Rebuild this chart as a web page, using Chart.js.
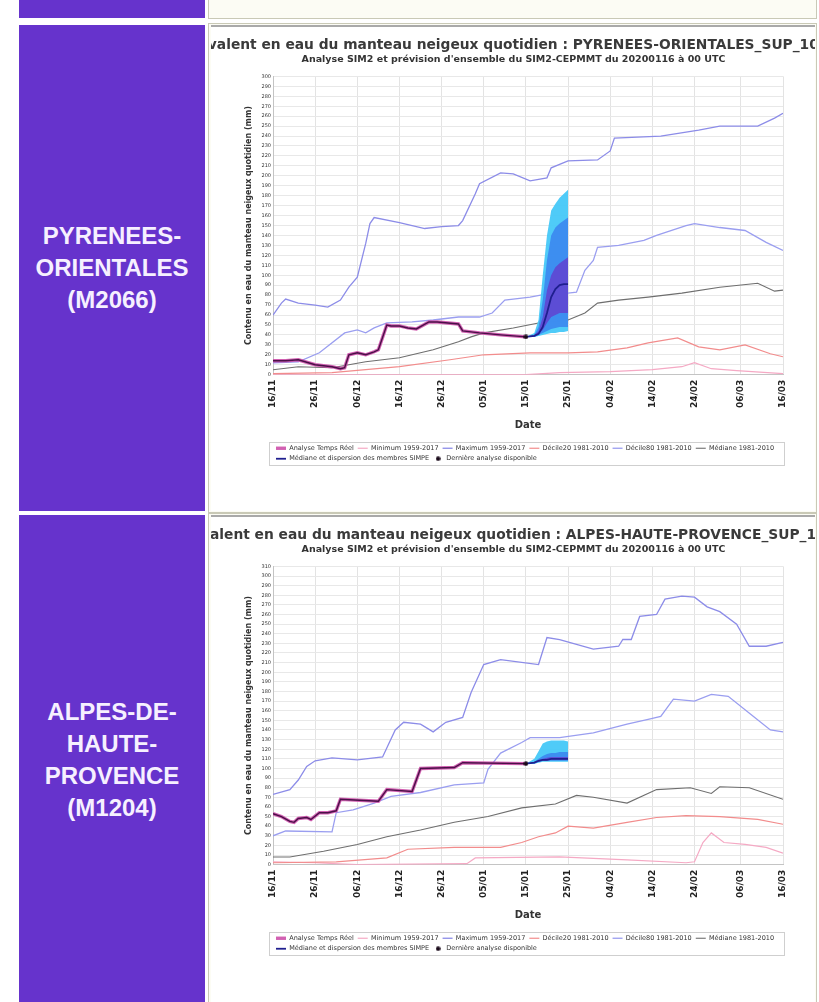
<!DOCTYPE html>
<html>
<head>
<meta charset="utf-8">
<script src="https://cdn.jsdelivr.net/npm/chart.js@4/dist/chart.umd.min.js"></script>
<style>
  body { margin: 0; background: #fff; font-family: "Liberation Sans", Arial, sans-serif; }
  .zone { position: absolute; left: 19px; width: 186px; background: #6633cc; color: #f6f0ff;
          font-weight: bold; font-size: 24px; line-height: 32px; text-align: center;
          display: flex; align-items: center; justify-content: center; }
  .cell { position: absolute; left: 208px; width: 609px; box-sizing: border-box;
          border: 1px solid #c9c9b6; background: #fcfcf4; }
  .frame { position: absolute; left: 211px; width: 604px; background: #fff; border-top: 2px solid #a9a9a9; }
  .box { position: absolute; left: 211px; width: 604px; height: 480px; }
</style>
</head>
<body>

<div class="zone" style="top:0;height:18px"></div>
<div class="cell" style="top:-1px;height:20px"></div>

<div class="zone" style="top:25px;height:486px"><div>PYRENEES-<br>ORIENTALES<br>(M2066)</div></div>
<div class="cell" style="top:23px;height:490px"></div>
<div class="frame" style="top:25px;height:484px"></div>
<div class="box" style="top:27px"><canvas id="chart1"></canvas></div>

<div class="zone" style="top:515px;height:490px"><div>ALPES-DE-<br>HAUTE-<br>PROVENCE<br>(M1204)</div></div>
<div class="cell" style="top:513px;height:495px"></div>
<div class="frame" style="top:515px;height:492px"></div>
<div class="box" style="top:517px"><canvas id="chart2"></canvas></div>

<script>
// jours depuis le 16/11/2019
var tickDays = [0, 10, 20, 30, 40, 50, 60, 70, 80, 90, 100, 111, 121];
var tickLabels = ["16/11", "26/11", "06/12", "16/12", "26/12", "05/01", "15/01", "25/01", "04/02", "14/02", "24/02", "06/03", "16/03"];
var seriesNames = ["Analyse Temps Réel", "Minimum 1959-2017", "Maximum 1959-2017", "Décile20 1981-2010",
                   "Décile80 1981-2010", "Médiane 1981-2010", "Médiane et dispersion des membres SIMPE",
                   "Dernière analyse disponible"];

// ---- PYRENEES-ORIENTALES ----
var poAnaDays = [0, 3, 6, 10, 14, 16, 17, 18, 20, 22, 24, 25, 27, 28, 30, 32, 34, 37, 39, 44, 45, 49, 54, 60];
var poAnaVals = [14, 14, 15, 10, 8, 6, 7, 20, 22, 20, 23, 25, 50, 49, 49, 47, 46, 53, 53, 51, 44, 42, 40, 38];
var poMinDays = [0, 60, 68, 80, 90, 97, 100, 104, 110, 121];
var poMinVals = [0, 0, 2, 3, 5, 8, 12, 6, 4, 1];
var poMaxDays = [0, 2, 3, 6, 10, 13, 16, 18, 20, 22, 23, 24, 30, 36, 40, 44, 45, 48, 49, 54, 57, 61, 65, 66, 70, 77, 80, 81, 92, 101, 106, 115, 119, 121];
var poMaxVals = [60, 72, 76, 72, 70, 68, 75, 88, 98, 132, 152, 158, 153, 147, 149, 150, 155, 182, 192, 203, 202, 195, 198, 208, 215, 216, 225, 238, 240, 246, 250, 250, 258, 263];
var poD20Days = [0, 14, 30, 42, 50, 61, 70, 77, 84, 89, 96, 101, 106, 112, 118, 121];
var poD20Vals = [1, 2, 8, 15, 20, 22, 22, 23, 27, 32, 37, 28, 25, 30, 21, 18];
var poD80Days = [0, 6, 11, 17, 20, 22, 24, 27, 33, 38, 44, 49, 52, 55, 61, 66, 70, 72, 74, 76, 77, 82, 88, 91, 98, 100, 106, 112, 117, 121];
var poD80Vals = [12, 13, 22, 42, 45, 42, 47, 52, 53, 55, 58, 58, 62, 75, 78, 82, 82, 83, 105, 115, 128, 130, 135, 140, 150, 152, 148, 145, 133, 125];
var poMedDays = [0, 6, 14, 22, 30, 38, 44, 47, 50, 57, 63, 70, 74, 77, 82, 89, 97, 106, 115, 119, 121];
var poMedVals = [5, 8, 7, 13, 17, 25, 33, 38, 42, 47, 52, 55, 62, 72, 75, 78, 82, 88, 92, 84, 85];
var poEnsDays = [60, 62, 63, 64, 65, 66, 67, 68, 69, 70];
var poEnsMed = [38, 39, 41, 48, 62, 78, 86, 90, 91, 91];
var poEnsLo10 = [38, 38, 39, 40, 41, 42, 42, 43, 43, 44];
var poEnsHi90 = [38, 42, 55, 100, 140, 165, 172, 178, 182, 186];
var poEnsLo25 = [38, 38, 40, 42, 44, 46, 47, 48, 48, 48];
var poEnsHi75 = [38, 40, 48, 75, 115, 140, 148, 152, 155, 158];
var poEnsLo40 = [38, 39, 41, 45, 52, 58, 60, 62, 62, 62];
var poEnsHi60 = [38, 40, 44, 58, 85, 100, 108, 112, 115, 118];

// ---- ALPES-DE-HAUTE-PROVENCE ----
var ahAnaDays = [0, 2, 4, 5, 6, 8, 9, 11, 13, 15, 16, 25, 27, 33, 35, 43, 45, 60];
var ahAnaVals = [53, 50, 45, 44, 48, 49, 47, 54, 54, 56, 68, 66, 78, 76, 100, 101, 106, 105];
var ahMinDays = [0, 10, 20, 46, 48, 68, 84, 98, 100, 102, 104, 107, 112, 117, 121];
var ahMinVals = [3, 2, 0, 1, 7, 8, 5, 2, 3, 23, 33, 23, 21, 18, 12];
var ahMaxDays = [0, 4, 6, 8, 10, 14, 20, 26, 29, 31, 35, 38, 41, 45, 47, 50, 54, 63, 65, 68, 76, 82, 83, 85, 87, 91, 93, 97, 100, 103, 106, 110, 113, 117, 121];
var ahMaxVals = [73, 78, 88, 102, 108, 111, 109, 112, 140, 148, 146, 138, 148, 153, 179, 208, 213, 208, 236, 234, 224, 227, 234, 234, 258, 260, 276, 279, 278, 268, 263, 250, 227, 227, 231];
var ahD20Days = [0, 15, 27, 32, 43, 54, 59, 63, 67, 70, 76, 84, 91, 98, 106, 115, 121];
var ahD20Vals = [2, 3, 7, 16, 18, 18, 23, 29, 33, 40, 38, 44, 49, 51, 50, 47, 42];
var ahD80Days = [0, 3, 14, 15, 19, 24, 28, 35, 43, 50, 51, 54, 59, 61, 68, 76, 84, 89, 92, 95, 100, 104, 108, 114, 118, 121];
var ahD80Vals = [30, 35, 34, 54, 57, 64, 71, 75, 83, 85, 99, 116, 127, 132, 132, 137, 146, 151, 154, 172, 170, 177, 175, 154, 140, 138];
var ahMedDays = [0, 4, 12, 20, 27, 35, 43, 51, 59, 67, 72, 76, 84, 91, 99, 104, 106, 113, 121];
var ahMedVals = [8, 8, 14, 21, 29, 36, 44, 50, 59, 63, 72, 70, 64, 78, 80, 74, 81, 80, 68];
var ahEnsDays = [60, 62, 63, 64, 65, 66, 67, 68, 69, 70];
var ahEnsMed = [105, 106, 108, 109, 109, 110, 110, 110, 110, 110];
var ahEnsLo10 = [105, 105, 106, 107, 107, 107, 107, 107, 107, 107];
var ahEnsHi90 = [105, 110, 118, 126, 128, 129, 129, 129, 129, 128];
var ahEnsLo25 = [105, 105, 107, 108, 108, 108, 108, 108, 108, 108];
var ahEnsHi75 = [105, 107, 110, 113, 115, 116, 116, 117, 117, 117];
var ahEnsLo40 = [105, 106, 107, 108, 108, 109, 109, 109, 109, 109];
var ahEnsHi60 = [105, 106, 108, 110, 111, 112, 112, 112, 112, 112];

Chart.defaults.font.family = "'DejaVu Sans', sans-serif";
Chart.defaults.color = "#333";

// petit rond noir pour "Derniere analyse disponible"
var dot = document.createElement("canvas");
dot.width = 5; dot.height = 5;
var dctx = dot.getContext("2d");
dctx.fillStyle = "#1a0a1a";
dctx.beginPath(); dctx.arc(2.5, 2.5, 2.3, 0, Math.PI * 2); dctx.fill();

function pts(days, vals) {
  return days.map(function (d, i) { return {x: d, y: vals[i]}; });
}

function serie(label, days, vals, color, width, order) {
  return {label: label, data: pts(days, vals), borderColor: color, backgroundColor: color,
          borderWidth: width, pointRadius: 0, pointStyle: "line", fill: false, order: order};
}

function band(days, vals, color, fillTo, order) {
  return {label: "", data: pts(days, vals), borderWidth: 0, pointRadius: 0, borderColor: color,
          backgroundColor: color, fill: fillTo, order: order, noLegend: true};
}

var headerTitle = {
  id: "headerTitle",
  afterDraw: function (chart, args, opts) {
    var ctx = chart.ctx;
    ctx.save();
    ctx.font = "bold 13.8px 'DejaVu Sans'";
    ctx.fillStyle = "#3a3a3a";
    ctx.textAlign = "center";
    ctx.textBaseline = "middle";
    ctx.fillText(opts.text, chart.width / 2 + opts.shift, 18);
    ctx.restore();
  }
};

var legendFrame = {
  id: "legendFrame",
  beforeDraw: function (chart) {
    var lg = chart.legend;
    var w = lg.right - lg.left;
    lg.left = chart.chartArea.left - 1;
    lg.right = lg.left + w;
  },
  afterDraw: function (chart) {
    var lg = chart.legend, ca = chart.chartArea, ctx = chart.ctx;
    ctx.save();
    ctx.strokeStyle = "#cfcfcf";
    ctx.lineWidth = 1;
    ctx.strokeRect(ca.left - 3.5, lg.top + 1.5, ca.right - ca.left + 5, 23);
    ctx.restore();
  }
};

function makeChart(id, title, ymax, s) {
  var datasets = [
    serie(seriesNames[0], s.anaDays, s.anaVals, "rgba(205,80,170,0.9)", 3.4, 2),
    serie(seriesNames[1], s.minDays, s.minVals, "#f5a9c4", 1.2, 11),
    serie(seriesNames[2], s.maxDays, s.maxVals, "#8c8ce8", 1.3, 7),
    serie(seriesNames[3], s.d20Days, s.d20Vals, "#f28c8c", 1.2, 10),
    serie(seriesNames[4], s.d80Days, s.d80Vals, "#9a9ef0", 1.3, 8),
    serie(seriesNames[5], s.medDays, s.medVals, "#6e6e6e", 1.1, 9),
    serie(seriesNames[6], s.ensDays, s.ensMed, "#1f1f8f", 1.8, 3),
    {label: seriesNames[7], data: [{x: s.anaDays[s.anaDays.length - 1], y: s.anaVals[s.anaVals.length - 1]}],
     pointStyle: dot, pointRadius: 3, showLine: false, borderColor: "#1a0a1a", backgroundColor: "#1a0a1a", order: 0},
    Object.assign(serie("", s.anaDays, s.anaVals, "#4a1048", 1.4, 1), {noLegend: true}),
    band(s.ensDays, s.ensLo10, "rgba(70,200,248,0.95)", false, 6),
    band(s.ensDays, s.ensHi90, "rgba(70,200,248,0.95)", "-1", 6),
    band(s.ensDays, s.ensLo25, "rgba(60,135,240,0.9)", false, 5),
    band(s.ensDays, s.ensHi75, "rgba(60,135,240,0.9)", "-1", 5),
    band(s.ensDays, s.ensLo40, "rgba(95,70,210,0.9)", false, 4),
    band(s.ensDays, s.ensHi60, "rgba(95,70,210,0.9)", "-1", 4)
  ];

  return new Chart(id, {
    type: "line",
    data: {datasets: datasets},
    options: {
      responsive: true,
      maintainAspectRatio: false,
      animation: false,
      layout: {padding: {left: 33, right: 32, top: 0, bottom: 35}},
      scales: {
        x: {
          type: "linear", min: 0, max: 121,
          afterBuildTicks: function (scale) {
            scale.ticks = tickDays.map(function (v) { return {value: v}; });
          },
          ticks: {
            autoSkip: false, maxRotation: 90, minRotation: 90, padding: 5,
            font: {size: 9, weight: "bold"}, color: "#222",
            callback: function (v, i) { return tickLabels[i]; }
          },
          grid: {color: "#e3e3e3", drawTicks: false},
          border: {color: "#c4c4c4"},
          title: {display: true, text: "Date", font: {size: 10, weight: "bold"}, color: "#333", padding: {top: 6, bottom: 10}}
        },
        y: {
          min: 0, max: ymax,
          ticks: {stepSize: 10, autoSkip: false, font: {size: 5}, color: "#333", padding: 2},
          grid: {color: "#e8e8e8", drawTicks: false},
          border: {color: "#c4c4c4"},
          title: {display: true, text: "Contenu en eau du manteau neigeux quotidien (mm)",
                  font: {size: 8, weight: "bold"}, color: "#333", padding: 0},
          afterFit: function (scale) { scale.width = 29; }
        }
      },
      plugins: {
        headerTitle: {text: title, shift: -7},
        subtitle: {
          display: true,
          text: "Analyse SIM2 et prévision d'ensemble du SIM2-CEPMMT du 20200116 à 00 UTC",
          font: {size: 9.5, weight: "bold"}, color: "#333",
          padding: {top: 27, bottom: 11}
        },
        legend: {
          position: "bottom", align: "start",
          labels: {
            usePointStyle: true, pointStyleWidth: 10, padding: 4,
            font: {size: 6.5}, color: "#333",
            sort: function (a, b) { return a.datasetIndex - b.datasetIndex; },
            filter: function (item, data) { return !data.datasets[item.datasetIndex].noLegend; }
          }
        },
        tooltip: {enabled: false}
      }
    },
    plugins: [headerTitle, legendFrame]
  });
}

makeChart("chart1", "Equivalent en eau du manteau neigeux quotidien : PYRENEES-ORIENTALES_SUP_1000", 300, {
  anaDays: poAnaDays, anaVals: poAnaVals, minDays: poMinDays, minVals: poMinVals,
  maxDays: poMaxDays, maxVals: poMaxVals, d20Days: poD20Days, d20Vals: poD20Vals,
  d80Days: poD80Days, d80Vals: poD80Vals, medDays: poMedDays, medVals: poMedVals,
  ensDays: poEnsDays, ensMed: poEnsMed, ensLo10: poEnsLo10, ensHi90: poEnsHi90,
  ensLo25: poEnsLo25, ensHi75: poEnsHi75, ensLo40: poEnsLo40, ensHi60: poEnsHi60
});

makeChart("chart2", "Equivalent en eau du manteau neigeux quotidien : ALPES-HAUTE-PROVENCE_SUP_1000", 310, {
  anaDays: ahAnaDays, anaVals: ahAnaVals, minDays: ahMinDays, minVals: ahMinVals,
  maxDays: ahMaxDays, maxVals: ahMaxVals, d20Days: ahD20Days, d20Vals: ahD20Vals,
  d80Days: ahD80Days, d80Vals: ahD80Vals, medDays: ahMedDays, medVals: ahMedVals,
  ensDays: ahEnsDays, ensMed: ahEnsMed, ensLo10: ahEnsLo10, ensHi90: ahEnsHi90,
  ensLo25: ahEnsLo25, ensHi75: ahEnsHi75, ensLo40: ahEnsLo40, ensHi60: ahEnsHi60
});
</script>
</body>
</html>
